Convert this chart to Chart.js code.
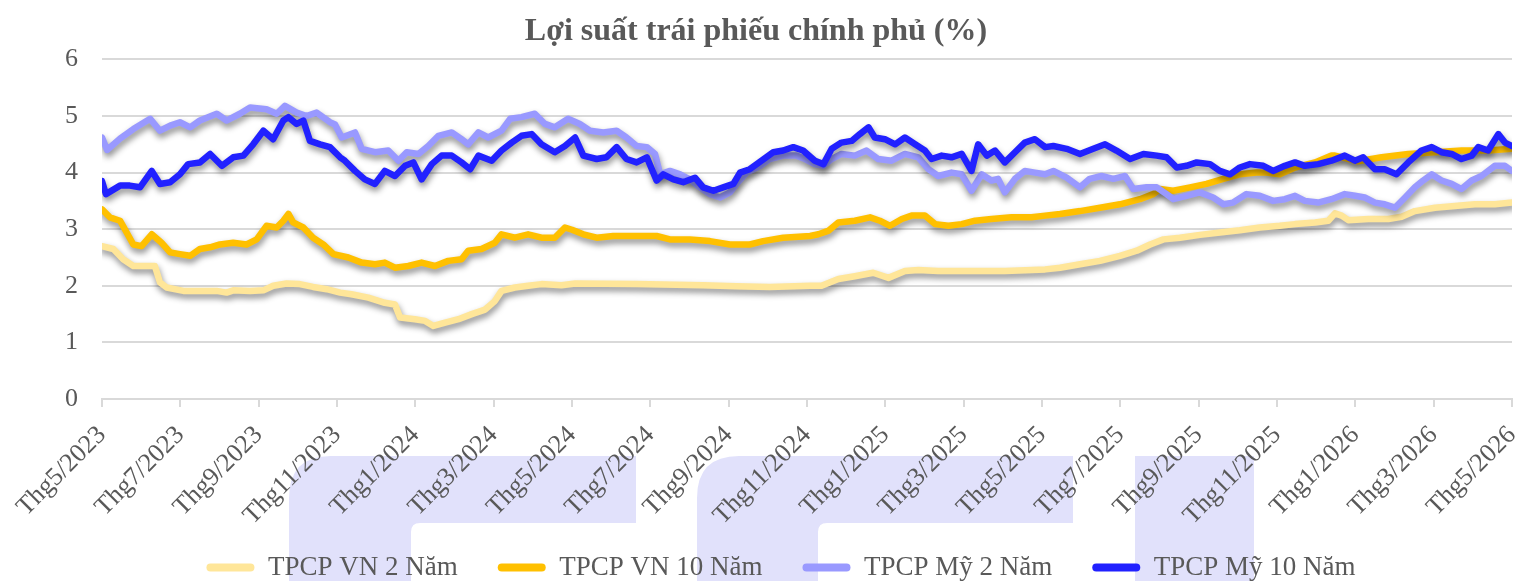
<!DOCTYPE html>
<html>
    <head>
        <meta charset="UTF-8">
        <title>Lợi suất trái phiếu chính phủ</title>
        <script src="https://cdn.jsdelivr.net/npm/chart.js@4.4.1/dist/chart.umd.min.js"></script>
        <style>
            body{margin:0;background:#fff;}
            #wrap{width:1518px;height:581px;}
        </style>
    </head>
    <body>
        <div id="wrap"><canvas id="chart" width="1518" height="581"></canvas></div>
        <script>
            // x = months since Thg5/2023, y = yield (%)
            const seriesNames=["TPCP VN 2 Năm","TPCP VN 10 Năm","TPCP Mỹ 2 Năm","TPCP Mỹ 10 Năm"];

            const vn2Data=[
                [0,2.70],[0.29,2.65],[0.54,2.47],[0.8,2.35],[1.06,2.35],[1.35,2.35],[1.48,2.06],[1.65,1.97],
                [2.08,1.91],[2.5,1.91],[2.93,1.91],[3.18,1.88],[3.35,1.92],[3.78,1.91],[4.12,1.92],[4.37,2.0],
                [4.71,2.04],[5.05,2.03],[5.39,1.98],[5.74,1.94],[6.08,1.88],[6.37,1.85],[6.8,1.79],[7.22,1.70],
                [7.48,1.67],[7.61,1.44],[7.99,1.41],[8.25,1.38],[8.46,1.29],[8.76,1.35],[9.1,1.41],[9.44,1.50],
                [9.78,1.58],[10.03,1.73],[10.2,1.91],[10.54,1.97],[10.88,2.0],[11.22,2.03],[11.73,2.01],[12.08,2.04],
                [13.65,2.03],[15.35,2.01],[16.2,1.99],[17.05,1.98],[18.08,2.0],[18.37,2.0],[18.8,2.12],[19.22,2.17],
                [19.69,2.23],[20.08,2.14],[20.5,2.26],[20.84,2.28],[21.35,2.26],[23.05,2.26],[24.08,2.29],[24.46,2.32],
                [24.97,2.38],[25.48,2.44],[25.99,2.53],[26.42,2.62],[26.76,2.73],[27.1,2.82],[27.52,2.85],[28.03,2.90],
                [28.54,2.94],[29.05,2.98],[29.56,3.03],[30.07,3.06],[30.46,3.09],[30.97,3.12],[31.31,3.15],[31.48,3.28],
                [31.65,3.24],[31.82,3.16],[32.33,3.18],[32.84,3.18],[33.18,3.22],[33.52,3.32],[34.03,3.38],[34.54,3.41],
                [35.05,3.44],[35.56,3.44],[36,3.47]
            ];

            const vn10Data=[
                [0,3.35],[0.2,3.21],[0.46,3.15],[0.8,2.73],[1.01,2.70],[1.27,2.91],[1.52,2.76],[1.74,2.59],
                [1.99,2.56],[2.25,2.53],[2.5,2.65],[2.76,2.68],[3.01,2.73],[3.35,2.76],[3.69,2.73],[3.95,2.82],
                [4.2,3.06],[4.46,3.03],[4.63,3.15],[4.76,3.27],[4.88,3.12],[5.14,3.03],[5.39,2.85],[5.65,2.73],
                [5.91,2.56],[6.29,2.50],[6.63,2.41],[6.97,2.38],[7.22,2.41],[7.48,2.32],[7.82,2.35],[8.16,2.41],
                [8.5,2.35],[8.84,2.44],[9.18,2.47],[9.35,2.62],[9.69,2.65],[10.03,2.76],[10.2,2.91],[10.54,2.85],
                [10.88,2.91],[11.22,2.85],[11.56,2.85],[11.82,3.03],[12.0,2.99],[12.29,2.91],[12.63,2.85],[13.05,2.88],
                [13.65,2.88],[14.16,2.88],[14.5,2.82],[15.01,2.82],[15.52,2.79],[16.03,2.73],[16.54,2.73],[16.88,2.79],
                [17.39,2.85],[18.08,2.88],[18.29,2.91],[18.54,2.97],[18.8,3.12],[19.22,3.15],[19.61,3.21],[19.86,3.15],
                [20.12,3.06],[20.42,3.18],[20.67,3.24],[21.01,3.24],[21.27,3.09],[21.61,3.06],[21.95,3.09],[22.29,3.15],
                [22.71,3.18],[23.22,3.21],[23.73,3.21],[24.08,3.24],[24.46,3.27],[24.97,3.32],[25.48,3.38],[25.99,3.44],
                [26.5,3.53],[26.84,3.62],[27.01,3.71],[27.35,3.68],[27.78,3.74],[28.2,3.80],[28.63,3.89],[29.05,3.97],
                [29.48,4.0],[29.73,4.0],[30.07,3.97],[30.46,4.09],[30.97,4.18],[31.39,4.30],[31.48,4.30],[32.07,4.20],
                [32.67,4.27],[33.35,4.33],[34.03,4.36],[34.71,4.39],[35.39,4.39],[36,4.42]
            ];

            const us2Data=[
                [0,4.62],[0.13,4.40],[0.46,4.60],[0.8,4.77],[1.23,4.95],[1.48,4.74],[1.74,4.83],[1.99,4.89],
                [2.25,4.80],[2.5,4.92],[2.93,5.04],[3.18,4.92],[3.52,5.04],[3.78,5.15],[4.2,5.12],[4.46,5.04],
                [4.67,5.18],[4.97,5.06],[5.22,5.0],[5.48,5.06],[5.82,4.89],[5.95,4.85],[6.12,4.62],[6.46,4.71],
                [6.63,4.42],[6.97,4.36],[7.31,4.39],[7.57,4.21],[7.78,4.36],[8.08,4.33],[8.33,4.47],[8.59,4.65],
                [8.93,4.71],[9.18,4.59],[9.35,4.50],[9.61,4.71],[9.86,4.62],[10.2,4.74],[10.42,4.95],[10.71,4.98],
                [11.05,5.04],[11.31,4.86],[11.56,4.80],[11.9,4.95],[12.2,4.86],[12.46,4.74],[12.8,4.71],[13.14,4.74],
                [13.39,4.62],[13.65,4.47],[13.91,4.45],[14.12,4.33],[14.25,3.97],[14.5,4.03],[14.76,3.97],[15.01,3.88],
                [15.27,3.74],[15.52,3.62],[15.78,3.56],[16.03,3.65],[16.2,3.80],[16.46,4.0],[16.8,4.12],[17.05,4.24],
                [17.39,4.30],[17.73,4.30],[17.95,4.24],[18.2,4.15],[18.42,4.12],[18.63,4.24],[18.88,4.33],[19.22,4.30],
                [19.52,4.39],[19.82,4.24],[20.16,4.21],[20.5,4.33],[20.84,4.27],[21.1,4.06],[21.35,3.94],[21.69,4.0],
                [21.95,3.97],[22.2,3.68],[22.46,3.97],[22.71,3.86],[22.88,3.89],[23.05,3.65],[23.31,3.89],[23.56,4.03],
                [23.82,4.0],[24.08,3.97],[24.29,4.03],[24.63,3.91],[24.97,3.74],[25.22,3.89],[25.52,3.94],[25.82,3.89],
                [26.12,3.94],[26.33,3.71],[26.67,3.74],[26.93,3.74],[27.18,3.62],[27.35,3.53],[27.69,3.59],[28.03,3.65],
                [28.37,3.56],[28.63,3.44],[28.88,3.47],[29.22,3.62],[29.56,3.59],[29.9,3.50],[30.2,3.53],[30.46,3.59],
                [30.71,3.50],[31.05,3.47],[31.39,3.53],[31.73,3.62],[31.99,3.59],[32.24,3.56],[32.5,3.47],[32.75,3.44],
                [33.01,3.38],[33.27,3.56],[33.52,3.74],[33.73,3.86],[33.95,3.97],[34.2,3.86],[34.46,3.80],[34.71,3.71],
                [34.97,3.86],[35.22,3.94],[35.56,4.12],[35.82,4.12],[36,4.03]
            ];

            const us10Data=[
                [0,3.85],[0.1,3.62],[0.46,3.77],[0.71,3.77],[0.97,3.74],[1.27,4.03],[1.48,3.80],[1.74,3.83],
                [1.99,3.97],[2.2,4.15],[2.5,4.18],[2.76,4.33],[3.06,4.12],[3.35,4.27],[3.61,4.30],[3.86,4.50],
                [4.12,4.74],[4.37,4.59],[4.63,4.92],[4.76,4.98],[4.97,4.86],[5.14,4.92],[5.31,4.56],[5.57,4.50],
                [5.82,4.45],[6.08,4.27],[6.2,4.21],[6.46,4.03],[6.71,3.88],[6.97,3.80],[7.22,4.03],[7.48,3.94],
                [7.74,4.12],[7.95,4.18],[8.16,3.88],[8.42,4.15],[8.67,4.30],[8.93,4.30],[9.18,4.18],[9.40,4.06],
                [9.61,4.30],[9.95,4.21],[10.2,4.39],[10.46,4.53],[10.71,4.65],[10.97,4.68],[11.22,4.50],[11.56,4.36],
                [11.82,4.47],[12.08,4.62],[12.29,4.30],[12.63,4.24],[12.88,4.27],[13.14,4.45],[13.39,4.24],[13.65,4.18],
                [13.91,4.27],[14.16,3.86],[14.33,3.97],[14.59,3.88],[14.84,3.83],[15.14,3.91],[15.35,3.74],[15.61,3.68],
                [15.86,3.74],[16.12,3.80],[16.29,4.0],[16.54,4.06],[16.84,4.21],[17.14,4.36],[17.39,4.39],[17.65,4.45],
                [17.9,4.39],[18.2,4.21],[18.42,4.15],[18.63,4.42],[18.88,4.53],[19.14,4.56],[19.35,4.68],[19.57,4.80],
                [19.73,4.62],[19.99,4.59],[20.25,4.50],[20.5,4.62],[20.76,4.50],[21.01,4.39],[21.18,4.24],[21.44,4.30],
                [21.69,4.27],[21.95,4.33],[22.2,4.03],[22.37,4.50],[22.59,4.30],[22.8,4.39],[23.05,4.18],[23.31,4.36],
                [23.56,4.53],[23.82,4.59],[24.08,4.45],[24.29,4.47],[24.63,4.42],[24.97,4.33],[25.31,4.42],[25.61,4.50],
                [25.9,4.39],[26.25,4.24],[26.59,4.33],[26.93,4.30],[27.18,4.27],[27.44,4.09],[27.69,4.12],[27.95,4.18],
                [28.29,4.15],[28.54,4.03],[28.8,3.97],[29.05,4.09],[29.31,4.15],[29.65,4.12],[29.9,4.03],[30.2,4.12],
                [30.46,4.18],[30.71,4.12],[31.05,4.15],[31.39,4.21],[31.73,4.30],[31.99,4.21],[32.2,4.27],[32.5,4.06],
                [32.75,4.06],[33.05,3.97],[33.35,4.18],[33.69,4.39],[33.95,4.45],[34.2,4.36],[34.46,4.33],[34.71,4.24],
                [34.97,4.30],[35.14,4.45],[35.39,4.39],[35.65,4.68],[35.82,4.53],[36,4.47]
            ];

            // tick label: month index -> "Thg5/2023"
            function monthLabel(v){
                const m=(4+v)%12+1;
                const y=2023+Math.floor((4+v)/12);
                return "Thg"+m+"/"+y;
            }

            const toPoints=arr=>arr.map(p=>({x:p[0],y:p[1]}));
            const grey="#595959";
            const serif="'Liberation Serif','Times New Roman',serif";

            // faint logo shapes behind the axis labels
            const watermark={
                id:"watermark",
                beforeDraw(chart){
                    const c=chart.ctx;
                    c.save();
                    c.fillStyle="#e1e1fb";
                    const hook=(x0,x1,xi)=>{
                        const top=456,arm=523,bot=581,R=42,r=9;
                        c.beginPath();
                        c.moveTo(x0,bot);
                        c.lineTo(x0,top+R);
                        c.quadraticCurveTo(x0,top,x0+R,top);
                        c.lineTo(x1,top);
                        c.lineTo(x1,arm);
                        c.lineTo(xi+r,arm);
                        c.quadraticCurveTo(xi,arm,xi,arm+r);
                        c.lineTo(xi,bot);
                        c.closePath();
                        c.fill();
                    };
                    hook(289,636,411);
                    hook(697,1073,818);
                    c.fillRect(1135,456,119,125);
                    c.restore();
                }
            };

            const shadow={
                id:"shadow",
                beforeDatasetDraw(chart){
                    const c=chart.ctx;
                    c.save();
                    c.shadowColor="rgba(0,0,0,0.45)";
                    c.shadowBlur=6;
                    c.shadowOffsetX=1;
                    c.shadowOffsetY=4;
                },
                afterDatasetDraw(chart){
                    chart.ctx.restore();
                }
            };

            // legend in the original sits a bit right of centre and overlaps the label box
            const legendShift={
                id:"legendShift",
                afterLayout(chart){
                    const lg=chart.legend;
                    lg.left+=25;
                    lg.right+=25;
                    lg.top-=12;
                    lg.bottom-=12;
                }
            };

            const colors=["#ffe699","#ffc000","#9999ff","#2121ff"];
            const allData=[vn2Data,vn10Data,us2Data,us10Data];

            const datasets=seriesNames.map((name,i)=>({
                label:name,
                data:toPoints(allData[i]),
                borderColor:colors[i],
                backgroundColor:colors[i],
                borderWidth:6.5,
                pointRadius:0,
                tension:0,
                borderCapStyle:"round",
                borderJoinStyle:"round",
                order:4-i
            }));

            new Chart(document.getElementById("chart"),{
                type:"line",
                data:{datasets},
                plugins:[watermark,shadow,legendShift],
                options:{
                    responsive:false,
                    animation:false,
                    layout:{padding:{left:0,right:6,top:0,bottom:-22}},
                    plugins:{
                        title:{
                            display:true,
                            text:"Lợi suất trái phiếu chính phủ (%)",
                            color:grey,
                            font:{family:serif,size:32,weight:"bold"},
                            padding:{top:13,bottom:8}
                        },
                        legend:{
                            position:"bottom",
                            labels:{
                                color:grey,
                                font:{family:serif,size:27},
                                boxWidth:48,
                                boxHeight:8,
                                padding:40,
                                useBorderRadius:true,
                                borderRadius:4,
                                sort:(a,b)=>a.datasetIndex-b.datasetIndex,
                                generateLabels(chart){
                                    return Chart.defaults.plugins.legend.labels.generateLabels(chart)
                                        .map(l=>({...l,lineWidth:0,fillStyle:l.strokeStyle}));
                                }
                            }
                        },
                        tooltip:{enabled:false}
                    },
                    scales:{
                        x:{
                            type:"linear",
                            min:0,
                            max:36,
                            ticks:{
                                stepSize:2,
                                autoSkip:false,
                                maxRotation:45,
                                minRotation:45,
                                color:grey,
                                font:{family:serif,size:26},
                                padding:13,
                                callback:v=>monthLabel(v)
                            },
                            grid:{drawOnChartArea:false,drawTicks:true,tickLength:8,color:"#d9d9d9",lineWidth:2},
                            border:{color:"#d9d9d9",width:2},
                            afterFit(scale){
                                scale.height=127;
                                scale.paddingLeft=0;
                                scale.paddingRight=0;
                            }
                        },
                        y:{
                            min:0,
                            max:6,
                            ticks:{
                                stepSize:1,
                                color:grey,
                                font:{family:serif,size:26},
                                padding:24
                            },
                            grid:{color:"#d9d9d9",lineWidth:2,drawTicks:false},
                            border:{display:false},
                            afterFit(scale){scale.width=102;}
                        }
                    }
                }
            });
        </script>
    </body>
</html>
